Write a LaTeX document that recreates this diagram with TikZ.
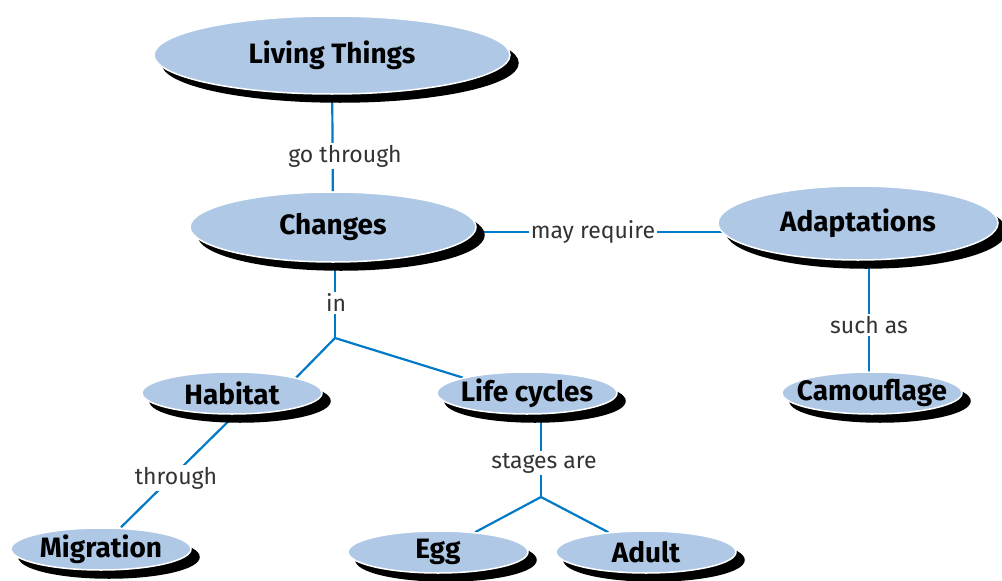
\documentclass[tikz,border=0pt]{standalone}
\usepackage{fontspec}
\setmainfont{Fira Sans}
\usetikzlibrary{shapes.geometric,shadows,backgrounds}
\definecolor{conceptblue}{RGB}{174,200,230}
\definecolor{linkblue}{RGB}{0,122,198}

\begin{document}
\begin{tikzpicture}[x=1pt, y=-1pt,
    concept/.style={ellipse, fill=conceptblue, draw=white, line width=1.5pt,
        inner xsep=-25pt, inner ysep=-8pt,
        drop shadow={shadow xshift=8pt, shadow yshift=-8pt, fill=black, draw=black, opacity=1},
        font=\fontsize{28}{32}\selectfont\bfseries},
    smallconcept/.style={concept, minimum width=180pt, minimum height=42pt},
    link/.style={draw=linkblue, line width=2.2pt},
    linkword/.style={fill=white, inner sep=2pt, text=black!80, font=\fontsize{23}{26}\selectfont}]
    \useasboundingbox (0,0) rectangle (1002,581);

    % concepts
    \node[concept, minimum width=356pt, minimum height=78pt] (lt) at (332,55) {Living Things};
    \node[concept, minimum width=286pt, minimum height=70pt] (chg) at (333,227) {Changes};
    \node[concept, minimum width=280pt, minimum height=74pt] (adp) at (858,223) {Adaptations};
    \node[smallconcept] (hab) at (232,393) {Habitat};
    \node[smallconcept] (lc) at (527,393) {Life cycles};
    \node[smallconcept] (cam) at (872,393) {Camouflage};
    \node[smallconcept] (mig) at (101,549) {Migration};
    \node[smallconcept] (egg) at (438,552) {Egg};
    \node[smallconcept] (adult) at (646,552) {Adult};

    % linking words
    \node[linkword] (gothrough) at (345,156) {go through};
    \node[linkword] (mayreq) at (593,232) {may require};
    \node[linkword] (in) at (336,303) {in};
    \node[linkword] (through) at (176,478) {through};
    \node[linkword] (stages) at (544,463) {stages are};
    \node[linkword] (suchas) at (869,325) {such as};

    % branch points
    \coordinate (injunc) at (335,338);
    \coordinate (lcjunc) at (541,497);

    % links
    \begin{scope}[on background layer]
        \draw[link] (lt) -- (chg);
        \draw[link] (chg |- mayreq) -- (adp |- mayreq);
        \draw[link] (injunc |- chg) -- (injunc);
        \draw[link] (hab.north east) -- (injunc) -- (lc.north west);
        \draw[link] ([xshift=3pt]hab.south) -- ([xshift=20pt]mig.north);
        \draw[link] (lcjunc |- lc) -- (lcjunc);
        \draw[link] (egg) -- (lcjunc) -- (adult);
        \draw[link] (suchas |- adp) -- (suchas |- cam);
    \end{scope}
\end{tikzpicture}
\end{document}
